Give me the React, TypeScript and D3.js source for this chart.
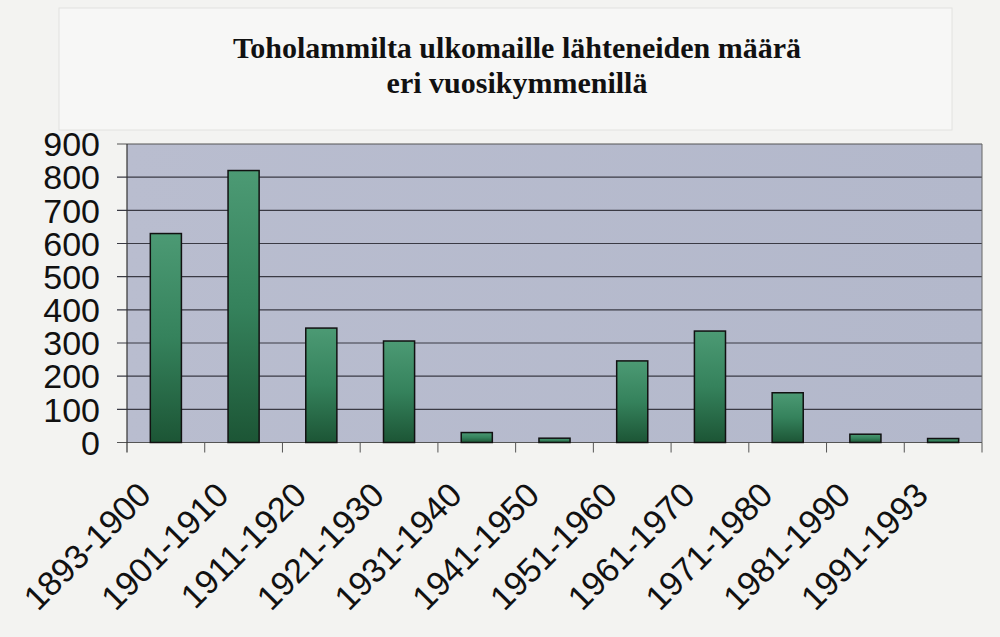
import React from "react";
import * as d3 from "d3";

const categories = ["1893-1900","1901-1910","1911-1920","1921-1930","1931-1940","1941-1950","1951-1960","1961-1970","1971-1980","1981-1990","1991-1993"];
const values = [630, 820, 345, 306, 30, 13, 246, 336, 150, 25, 12];
const yTicks = [0,100,200,300,400,500,600,700,800,900];
const titleLines = ["Toholammilta ulkomaille lähteneiden määrä", "eri vuosikymmenillä"];

const W = 1000, H = 637;
const left = 127, right = 982, top = 144, bottom = 442.5;

export default function App() {
  const x = d3.scaleBand<string>().domain(categories).range([left, right]).paddingInner(0.6).paddingOuter(0.3);
  const xb = d3.scaleBand<string>().domain(categories).range([left, right]);
  const y = d3.scaleLinear().domain([0, 900]).range([bottom, top]);
  return (
    <svg width={W} height={H} style={{ position: "absolute", left: 0, top: 0 }}>
      <defs>
        <linearGradient id="barg" x1="0" y1="0" x2="0" y2="1">
          <stop offset="0" stopColor="#4c9a74" />
          <stop offset="0.5" stopColor="#35825c" />
          <stop offset="1" stopColor="#1c5535" />
        </linearGradient>
        <linearGradient id="bgg" x1="0" y1="0" x2="1" y2="0">
          <stop offset="0" stopColor="#b9bdcf" />
          <stop offset="1" stopColor="#b3b8cb" />
        </linearGradient>
      </defs>
      <rect x={0} y={0} width={W} height={H} fill="#f3f3f1" />
      <rect x={59} y={8} width={893} height={122} fill="#f7f7f6" stroke="#e2e2e0" />
      {titleLines.map((t, i) => (
        <text key={i} x={517} y={58 + i * 35} textAnchor="middle" fontFamily="Liberation Serif, serif" fontWeight="bold" fontSize={30} fill="#111">{t}</text>
      ))}
      <rect x={left} y={top} width={right - left} height={bottom - top} fill="url(#bgg)" />
      {yTicks.map(t => (
        <g key={t}>
          <line x1={left - 10} x2={right} y1={y(t)} y2={y(t)} stroke={t === 0 || t === 900 ? "#555" : "#3a3a44"} strokeWidth={1.2} />
          <text x={100} y={y(t)} dy="0.36em" textAnchor="end" fontFamily="Liberation Sans, Arial, sans-serif" fontSize={34} fill="#111">{t}</text>
        </g>
      ))}
      <line x1={right} x2={right} y1={top} y2={bottom} stroke="#666" strokeWidth={1} />
      <line x1={left} x2={left} y1={top} y2={bottom + 10} stroke="#333" strokeWidth={1.2} />
      {categories.map((c) => (
        <line key={c} x1={xb(c)! + xb.bandwidth()} x2={xb(c)! + xb.bandwidth()} y1={bottom} y2={bottom + 10} stroke="#555" strokeWidth={1} />
      ))}
      {categories.map((c, i) => (
        <rect key={c} x={x(c)!} y={y(values[i])} width={x.bandwidth()} height={bottom - y(values[i])} fill="url(#barg)" stroke="#111" strokeWidth={1.5} />
      ))}
      {categories.map((c) => {
        const cx = xb(c)! + xb.bandwidth() / 2 - 13;
        const cy = 497;
        return (
          <text key={c} x={cx} y={cy} transform={`rotate(-45 ${cx} ${cy})`} textAnchor="end" fontFamily="Liberation Sans, Arial, sans-serif" fontSize={34} fill="#111">{c}</text>
        );
      })}
    </svg>
  );
}
